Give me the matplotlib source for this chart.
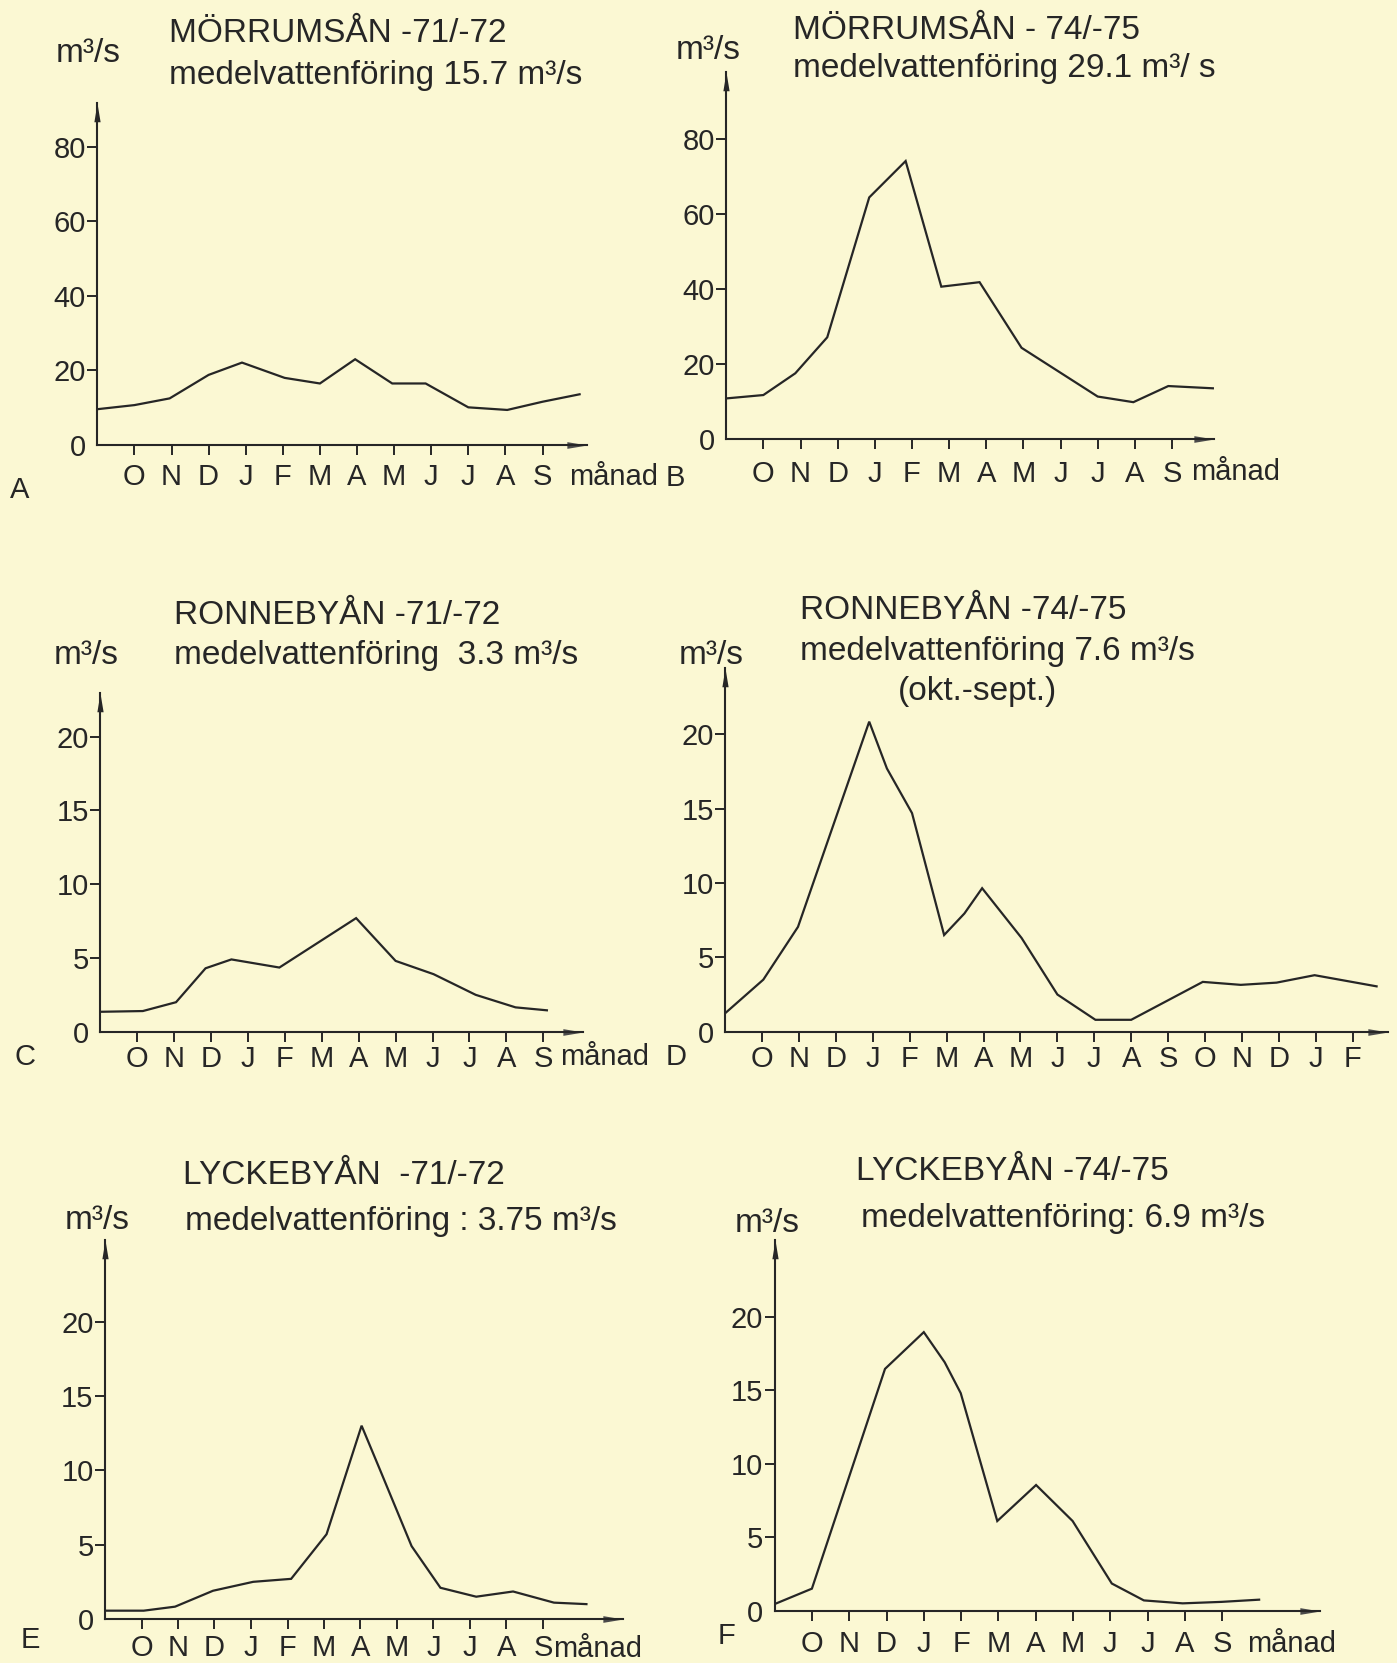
import matplotlib
matplotlib.use("Agg")
import matplotlib.pyplot as plt

W, H = 1397, 1663
BG = "#FBF8D3"
INK = "#262626"
ARROW = "#4a4a4a"
plt.rcParams['font.family'] = ['Liberation Sans', 'DejaVu Sans']
NARROW = ['Liberation Sans Narrow', 'Liberation Sans', 'DejaVu Sans']

# ---------------- data ----------------
months_year = ["O", "N", "D", "J", "F", "M", "A", "M", "J", "J", "A", "S"]
months_long = ["O", "N", "D", "J", "F", "M", "A", "M", "J", "J", "A", "S",
               "O", "N", "D", "J", "F"]

yticks_big = [0, 20, 40, 60, 80]
yticks_small = [0, 5, 10, 15, 20]

# A: Mörrumsån 1971/72
a_x = [0, 1, 1.95, 3, 3.9, 5.05, 6, 6.95, 7.95, 8.85, 10, 11.05, 12, 13]
a_y = [9.6, 10.7, 12.5, 18.8, 22.1, 18.0, 16.5, 23.0, 16.5, 16.5, 10.1, 9.4, 11.6, 13.6]

# B: Mörrumsån 1974/75
b_x = [0, 1, 1.86, 2.72, 3.85, 4.83, 5.79, 6.82, 7.95, 10.0, 10.96, 11.9, 13.1]
b_y = [10.9, 11.8, 17.6, 27.2, 64.5, 74.2, 40.7, 41.9, 24.4, 11.4, 9.9, 14.2, 13.6]

# C: Ronnebyån 1971/72
c_x = [0, 1.15, 2.05, 2.85, 3.55, 4.85, 6.93, 8.0, 9.03, 10.17, 11.25, 12.1]
c_y = [1.35, 1.4, 2.0, 4.3, 4.9, 4.35, 7.7, 4.8, 3.9, 2.5, 1.65, 1.45]

# D: Ronnebyån 1974/75 (and Oct-Feb following)
d_x = [0, 1.03, 1.97, 3.9, 4.38, 5.06, 5.93, 6.48, 6.96, 8.03, 9.0, 10.03, 11.0,
       12.94, 13.97, 14.94, 15.97, 17.65]
d_y = [1.25, 3.5, 7.05, 20.85, 17.7, 14.7, 6.5, 7.95, 9.65, 6.3, 2.5, 0.8, 0.8,
       3.35, 3.15, 3.3, 3.8, 3.05]

# E: Lyckebyån 1971/72
e_x = [0, 1.06, 1.92, 2.96, 4.06, 5.1, 6.07, 7.03, 7.54, 8.4, 9.19, 10.17, 11.18,
       12.3, 13.19]
e_y = [0.56, 0.56, 0.83, 1.9, 2.5, 2.7, 5.7, 13.0, 10.0, 4.9, 2.1, 1.5, 1.85, 1.1, 1.0]

# F: Lyckebyån 1974/75
f_x = [0, 1.0, 2.96, 4.0, 4.56, 4.99, 5.97, 7.01, 7.99, 9.04, 9.9, 10.94, 11.98, 12.99]
f_y = [0.45, 1.5, 16.45, 18.95, 16.9, 14.8, 6.1, 8.55, 6.1, 1.85, 0.7, 0.5, 0.6, 0.75]

titles = {
    "A": ["MÖRRUMSÅN -71/-72", "medelvattenföring 15.7 m³/s"],
    "B": ["MÖRRUMSÅN - 74/-75", "medelvattenföring 29.1 m³/ s"],
    "C": ["RONNEBYÅN -71/-72", "medelvattenföring  3.3 m³/s"],
    "D": ["RONNEBYÅN -74/-75", "medelvattenföring 7.6 m³/s", "(okt.-sept.)"],
    "E": ["LYCKEBYÅN  -71/-72", "medelvattenföring : 3.75 m³/s"],
    "F": ["LYCKEBYÅN -74/-75", "medelvattenföring: 6.9 m³/s"],
}
unit_text = "m³/s"
month_word = "månad"

# ---------------- drawing ----------------
fig = plt.figure(figsize=(W / 100, H / 100), dpi=100, facecolor=BG)

XARROW = [(0, 0), (-6, -1), (-6, 1), (0, 0)]
YARROW = [(0, 0), (-1, -6), (1, -6), (0, 0)]


def put(x, y, s, size, ha="left", family=None, va="center_baseline"):
    kw = {}
    if family is not None:
        kw["family"] = family
    fig.text(x / W, 1 - y / H, s, ha=ha, va=va, fontsize=size, color=INK, **kw)


def panel(axis_px, y0_px, spacing, ppu, xmax, ymax, x, y, yticks, xlabels, xpad):
    ax = fig.add_axes([axis_px / W, 1 - y0_px / H, xmax * spacing / W, ymax * ppu / H])
    ax.set_facecolor("none")
    ax.set_xlim(0, xmax)
    ax.set_ylim(0, ymax)
    ax.plot(x, y, color=INK, lw=1.6, solid_joinstyle="miter")
    for s in ("top", "right"):
        ax.spines[s].set_visible(False)
    for s in ("left", "bottom"):
        ax.spines[s].set_linewidth(1.5)
        ax.spines[s].set_color(INK)
    ax.set_xticks(range(1, len(xlabels) + 1))
    ax.set_xticklabels(xlabels)
    ax.set_yticks(yticks)
    ax.set_yticklabels([str(v) for v in yticks])
    ax.tick_params(axis="both", direction="out", length=7.2, width=1.4,
                   colors=INK, labelsize=21)
    ax.tick_params(axis="x", pad=xpad)
    ax.tick_params(axis="y", pad=1)
    for lbl in ax.get_xticklabels() + ax.get_yticklabels():
        lbl.set_fontfamily(NARROW)
    ax.yaxis.get_major_ticks()[0].tick1line.set_visible(False)
    ax.plot([1], [0], marker=XARROW, ms=29, mew=0, color=ARROW,
            transform=ax.transAxes, clip_on=False)
    ax.plot([0], [1], marker=YARROW, ms=27, mew=0, color=INK,
            transform=ax.transAxes, clip_on=False)
    return ax


# A
panel(97.3, 445, 37.1, 298.3 / 80, 13.2, 91.7, a_x, a_y, yticks_big, months_year, 5.8)
put(55.8, 50, unit_text, 24)
put(168.75, 30, titles["A"][0], 24)
put(168.75, 72, titles["A"][1], 24)
put(569, 474, month_word, 21, family=NARROW)
put(20, 487, "A", 21, ha="center")

# B
panel(726.2, 439.3, 37.15, 3.75, 13.14, 98, b_x, b_y, yticks_big, months_year, 7.5)
put(676, 47, unit_text, 24)
put(793, 27, titles["B"][0], 24)
put(793, 65, titles["B"][1], 24)
put(1191, 469, month_word, 21, family=NARROW)
put(675, 475, "B", 21, ha="center")

# C
panel(100.4, 1031.7, 36.9, 14.75, 13.07, 22.96, c_x, c_y, yticks_small, months_year, 2.4)
put(53.6, 652, unit_text, 24)
put(174, 612, titles["C"][0], 24)
put(174, 652, titles["C"][1], 24)
put(560, 1054, month_word, 21, family=NARROW)
put(25.5, 1054, "C", 21, ha="center")

# D
panel(725.3, 1031.7, 36.9, 14.87, 17.97, 24.44, d_x, d_y, yticks_small, months_long, 2.4)
put(678.6, 652, unit_text, 24)
put(800, 607, titles["D"][0], 24)
put(800, 648, titles["D"][1], 24)
put(977, 688, titles["D"][2], 24, ha="center")
put(676, 1054, "D", 21, ha="center")

# E
panel(105, 1619, 36.5, 14.87, 14.19, 25.5, e_x, e_y, yticks_small, months_year, 3.8)
put(65, 1217, unit_text, 24)
put(183, 1172, titles["E"][0], 24)
put(185, 1218, titles["E"][1], 24)
put(553, 1646, month_word, 21, family=NARROW)
put(30, 1637, "E", 21, ha="center")

# F
panel(774.6, 1610.7, 37.3, 14.7, 14.62, 25.2, f_x, f_y, yticks_small, months_year, 6.7)
put(735, 1220, unit_text, 24)
put(856, 1168, titles["F"][0], 24)
put(860.6, 1215, titles["F"][1], 24)
put(1247, 1641, month_word, 21, family=NARROW)
put(727, 1633, "F", 21, ha="center")

fig.savefig("out.png", dpi=100, facecolor=BG)
